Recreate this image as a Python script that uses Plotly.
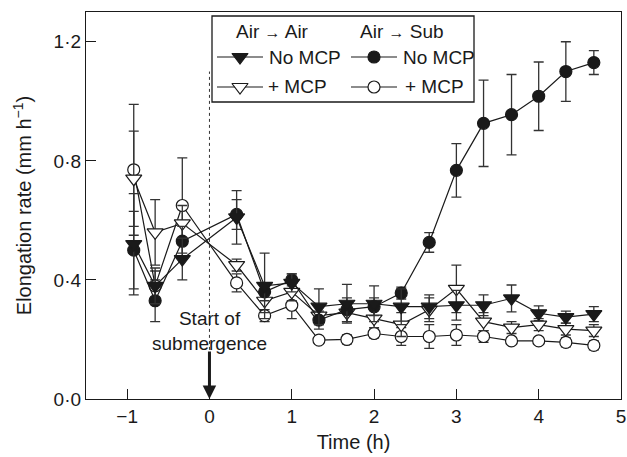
import plotly.graph_objects as go

# ---- data ----
time_h = [-0.92, -0.66, -0.33, 0.33, 0.67, 1.0, 1.33, 1.67, 2.0, 2.33, 2.67,
          3.0, 3.33, 3.67, 4.0, 4.33, 4.67]

air_air_no_mcp = [0.52, 0.38, 0.47, 0.61, 0.38, 0.39, 0.31, 0.32, 0.32, 0.31, 0.31,
                  0.315, 0.315, 0.338, 0.288, 0.275, 0.285]
air_air_no_mcp_err = [0.17, 0.06, 0.07, 0.09, 0.11, 0.03, 0.06, 0.065, 0.06, 0.06, 0.04,
                      0.05, 0.035, 0.045, 0.025, 0.02, 0.025]

air_air_mcp = [0.74, 0.56, 0.59, 0.45, 0.33, 0.36, 0.28, 0.29, 0.27, 0.25, 0.30,
               0.37, 0.26, 0.24, 0.25, 0.235, 0.23]
air_air_mcp_err = [0.16, 0.11, 0.06, 0.02, 0.04, 0.03, 0.03, 0.03, 0.03, 0.04, 0.04,
                   0.08, 0.03, 0.02, 0.02, 0.02, 0.02]

air_sub_no_mcp = [0.50, 0.33, 0.53, 0.62, 0.36, 0.40, 0.265, 0.30, 0.31, 0.356, 0.526,
                  0.768, 0.926, 0.955, 1.017, 1.10, 1.13]
air_sub_no_mcp_err = [0.13, 0.07, 0.05, 0.05, 0.03, 0.02, 0.03, 0.04, 0.03, 0.02, 0.033,
                      0.09, 0.145, 0.135, 0.115, 0.10, 0.04]

air_sub_mcp = [0.77, 0.38, 0.65, 0.39, 0.28, 0.315, 0.198, 0.20, 0.22, 0.21, 0.21,
               0.215, 0.21, 0.195, 0.195, 0.19, 0.18]
air_sub_mcp_err = [0.22, 0.05, 0.16, 0.03, 0.02, 0.045, 0.01, 0.015, 0.015, 0.03, 0.04,
                   0.035, 0.02, 0.01, 0.01, 0.015, 0.015]

y_tickvals = [0.0, 0.4, 0.8, 1.2]
y_ticktext = ["0·0", "0·4", "0·8", "1·2"]
x_tickvals = [-1, 0, 1, 2, 3, 4, 5]
x_ticktext = ["−1", "0", "1", "2", "3", "4", "5"]

FONT = "Liberation Sans, Arial, sans-serif"
INK = "#1a1a1a"
FS = 19

fig = go.Figure()

series = [
    (air_sub_mcp, air_sub_mcp_err, "circle", "white", 12),
    (air_air_mcp, air_air_mcp_err, "triangle-down", "white", 14),
    (air_sub_no_mcp, air_sub_no_mcp_err, "circle", INK, 12),
    (air_air_no_mcp, air_air_no_mcp_err, "triangle-down", INK, 14),
]
for vals, errs, sym, fill, sz in series:
    fig.add_trace(go.Scatter(
        x=time_h, y=vals, mode="lines+markers",
        line=dict(color=INK, width=1.2),
        marker=dict(symbol=sym, size=sz, color=fill, line=dict(color=INK, width=1.2)),
        error_y=dict(type="data", array=errs, visible=True, color="#333333",
                     thickness=1.3, width=5),
        showlegend=False, xaxis="x", yaxis="y",
    ))

# ---- hand-built legend on a pixel overlay axis ----
rows = [57, 87]
left_line = (217, 263)
right_line = (351, 397)
leg_specs = [
    (left_line, rows[0], "triangle-down", INK, 14),
    (left_line, rows[1], "triangle-down", "white", 14),
    (right_line, rows[0], "circle", INK, 12),
    (right_line, rows[1], "circle", "white", 12),
]
for (x0, x1), yy, sym, fill, sz in leg_specs:
    fig.add_trace(go.Scatter(x=[x0, x1], y=[yy, yy], mode="lines",
                             line=dict(color=INK, width=1.2),
                             showlegend=False, xaxis="x2", yaxis="y2", hoverinfo="skip"))
    fig.add_trace(go.Scatter(x=[(x0 + x1) / 2], y=[yy], mode="markers",
                             marker=dict(symbol=sym, size=sz, color=fill,
                                         line=dict(color=INK, width=1.2)),
                             showlegend=False, xaxis="x2", yaxis="y2", hoverinfo="skip"))

shapes = [
    dict(type="rect", xref="x2", yref="y2", x0=212, x1=474, y0=16, y1=102,
         line=dict(color=INK, width=1.3), fillcolor="white", layer="below"),
    dict(type="line", xref="x", yref="y", x0=0, x1=0, y0=0.165, y1=1.10,
         line=dict(color="#333333", width=1, dash="dot")),
]

arrow_span = "<span style='font-size:16px'>→</span>"
annotations = [
    dict(xref="x2", yref="y2", x=272, y=31, text=f"Air {arrow_span} Air", showarrow=False,
         font=dict(size=FS, color=INK, family=FONT)),
    dict(xref="x2", yref="y2", x=402, y=31, text=f"Air {arrow_span} Sub", showarrow=False,
         font=dict(size=FS, color=INK, family=FONT)),
    dict(xref="x2", yref="y2", x=267, y=rows[0], text="No MCP", showarrow=False,
         xanchor="left", font=dict(size=FS, color=INK, family=FONT)),
    dict(xref="x2", yref="y2", x=266, y=rows[1] - 1, text="+ MCP", showarrow=False,
         xanchor="left", font=dict(size=FS, color=INK, family=FONT)),
    dict(xref="x2", yref="y2", x=401, y=rows[0], text="No MCP", showarrow=False,
         xanchor="left", font=dict(size=FS, color=INK, family=FONT)),
    dict(xref="x2", yref="y2", x=403, y=rows[1] - 1, text="+ MCP", showarrow=False,
         xanchor="left", font=dict(size=FS, color=INK, family=FONT)),
    dict(xref="x", yref="y", x=0.0, y=0.23, text="Start of<br>submergence",
         showarrow=False, font=dict(size=FS, color=INK, family=FONT)),
    dict(xref="x", yref="y", x=0, y=0.0, ax=0, ay=0.165, axref="x", ayref="y",
         text="", showarrow=True, arrowhead=2, arrowwidth=3, arrowsize=0.9,
         arrowcolor=INK, standoff=0),
]

fig.update_layout(
    width=627, height=457,
    margin=dict(l=86, r=6, t=12, b=58, autoexpand=False),
    paper_bgcolor="white", plot_bgcolor="white",
    font=dict(family=FONT, size=FS, color=INK),
    hovermode=False,
    xaxis=dict(range=[-1.5, 5], tickvals=x_tickvals, ticktext=x_ticktext,
               ticks="inside", ticklen=10, tickwidth=1.2, tickcolor=INK,
               showline=True, linecolor=INK, linewidth=1.3, mirror=True,
               showgrid=False, zeroline=False, automargin=False,
               title=dict(text="Time (h)", standoff=9, font=dict(size=20))),
    yaxis=dict(range=[0, 1.3], tickvals=y_tickvals, ticktext=y_ticktext,
               ticks="inside", ticklen=10, tickwidth=1.2, tickcolor=INK,
               showline=True, linecolor=INK, linewidth=1.3, mirror=True,
               showgrid=False, zeroline=False, automargin=False,
               title=dict(text="Elongation rate (mm h<sup>−1</sup>)", standoff=16,
                          font=dict(size=20))),
    xaxis2=dict(range=[86, 621], overlaying="x", anchor="y2", visible=False),
    yaxis2=dict(range=[399, 12], overlaying="y", anchor="x2", visible=False),
    shapes=shapes, annotations=annotations,
)

fig.write_html(
    "out.html",
    config={"displayModeBar": False},
    post_script="document.body.style.margin='0';document.body.style.padding='0';",
)
